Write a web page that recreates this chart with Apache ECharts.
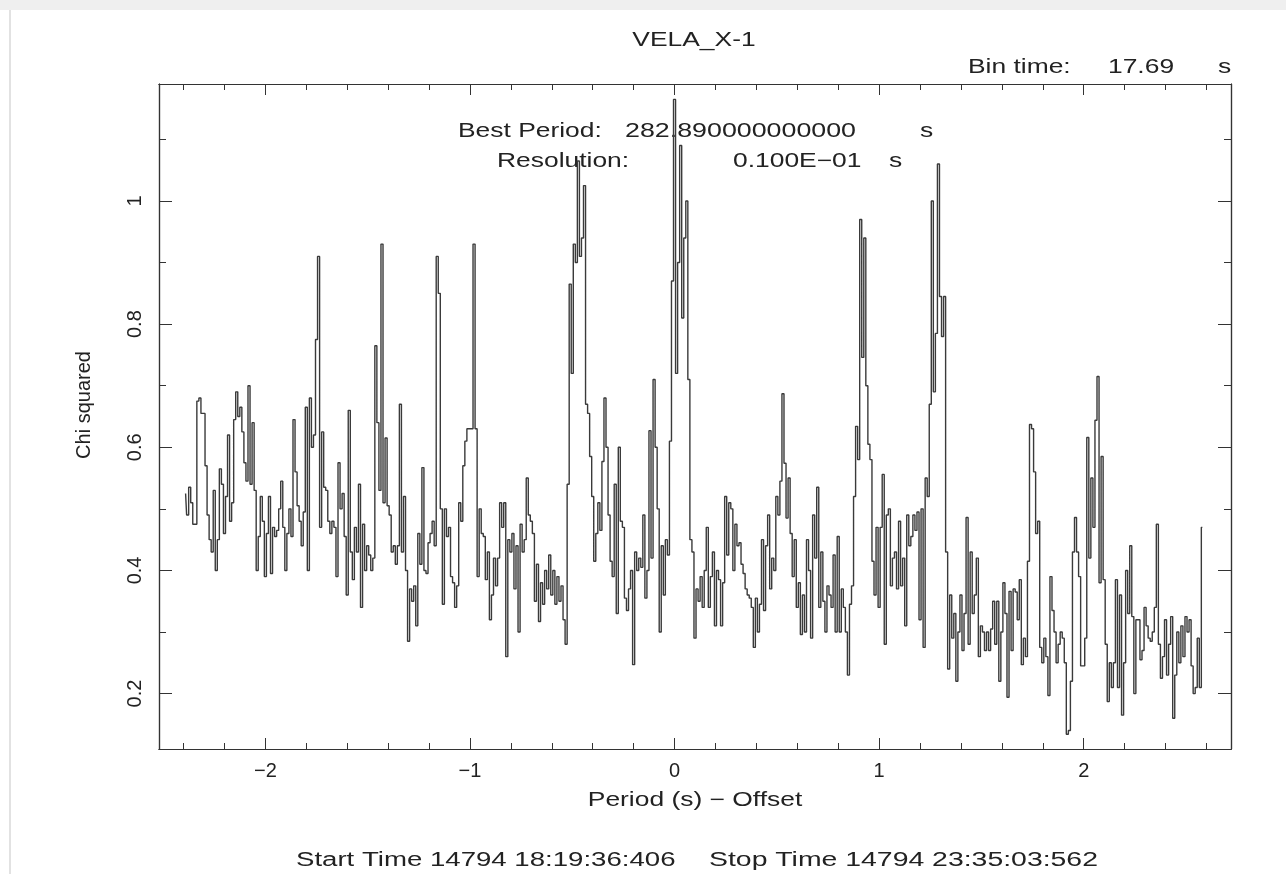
<!DOCTYPE html>
<html>
<head>
<meta charset="utf-8">
<title>VELA_X-1</title>
<script src="https://cdn.jsdelivr.net/npm/echarts@6/dist/echarts.min.js"></script>
<style>
html, body { margin: 0; padding: 0; background: #fff; }
#band { position: absolute; left: 0; top: 0; width: 1286px; height: 10px; background: #efefef; }
#edge { position: absolute; left: 9px; top: 10px; width: 2px; height: 864px; background: #e2e2e2; }
#chart { position: absolute; left: 0; top: 0; width: 1286px; height: 874px; }
</style>
</head>
<body>
<div id="band"></div>
<div id="edge"></div>
<div id="chart"></div>
<script>
var periodStart = -2.39; // first trial period (s) - offset
var resolution = 0.01;   // trial period step (s)

// chi squared for each trial period
var chiSquared = [
	0.525, 0.49, 0.535, 0.51, 0.475, 0.475, 0.675, 0.68, 0.655, 0.655,
	0.57, 0.49, 0.45, 0.43, 0.53, 0.40, 0.45, 0.565, 0.54, 0.46,
	0.52, 0.62, 0.48, 0.51, 0.645, 0.69, 0.65, 0.665, 0.625, 0.575,
	0.545, 0.70, 0.54, 0.64, 0.53, 0.40, 0.455, 0.52, 0.48, 0.39,
	0.46, 0.52, 0.395, 0.47, 0.455, 0.465, 0.50, 0.545, 0.47, 0.40,
	0.46, 0.50, 0.455, 0.645, 0.56, 0.505, 0.48, 0.44, 0.495, 0.665,
	0.40, 0.68, 0.60, 0.62, 0.775, 0.91, 0.47, 0.625, 0.535, 0.53,
	0.48, 0.46, 0.48, 0.47, 0.39, 0.575, 0.50, 0.525, 0.455, 0.36,
	0.66, 0.43, 0.385, 0.47, 0.43, 0.54, 0.34, 0.475, 0.40, 0.44,
	0.425, 0.40, 0.42, 0.765, 0.64, 0.53, 0.93, 0.51, 0.615, 0.505,
	0.49, 0.43, 0.44, 0.41, 0.44, 0.67, 0.43, 0.52, 0.40, 0.285,
	0.37, 0.35, 0.375, 0.31, 0.46, 0.41, 0.567, 0.40, 0.395, 0.445,
	0.46, 0.48, 0.44, 0.91, 0.85, 0.50, 0.345, 0.50, 0.455, 0.47,
	0.39, 0.38, 0.34, 0.375, 0.51, 0.48, 0.57, 0.61, 0.63, 0.63,
	0.63, 0.93, 0.63, 0.39, 0.50, 0.46, 0.455, 0.385, 0.43, 0.32,
	0.36, 0.42, 0.375, 0.42, 0.51, 0.47, 0.51, 0.26, 0.45, 0.43,
	0.46, 0.37, 0.44, 0.30, 0.475, 0.43, 0.45, 0.55, 0.49, 0.48,
	0.46, 0.35, 0.41, 0.317, 0.38, 0.345, 0.40, 0.37, 0.425, 0.36,
	0.40, 0.345, 0.39, 0.35, 0.375, 0.32, 0.28, 0.54, 0.865, 0.72,
	0.93, 0.90, 1.065, 0.91, 0.94, 1.025, 0.67, 0.655, 0.585, 0.52,
	0.415, 0.46, 0.51, 0.465, 0.577, 0.68, 0.60, 0.49, 0.415, 0.39,
	0.54, 0.33, 0.60, 0.48, 0.47, 0.355, 0.335, 0.37, 0.40, 0.247,
	0.43, 0.40, 0.42, 0.405, 0.49, 0.355, 0.40, 0.627, 0.42, 0.71,
	0.60, 0.50, 0.30, 0.44, 0.36, 0.45, 0.425, 0.61, 0.87, 1.165,
	0.72, 0.90, 1.09, 0.81, 0.94, 1.0, 0.71, 0.45, 0.43, 0.29,
	0.37, 0.35, 0.39, 0.34, 0.40, 0.47, 0.34, 0.39, 0.43, 0.31,
	0.40, 0.385, 0.31, 0.38, 0.52, 0.425, 0.51, 0.50, 0.40, 0.475,
	0.44, 0.445, 0.41, 0.395, 0.37, 0.36, 0.355, 0.34, 0.275, 0.355,
	0.30, 0.345, 0.45, 0.335, 0.44, 0.49, 0.37, 0.42, 0.40, 0.52,
	0.49, 0.545, 0.687, 0.574, 0.485, 0.55, 0.46, 0.39, 0.45, 0.34,
	0.38, 0.296, 0.36, 0.30, 0.45, 0.40, 0.29, 0.49, 0.42, 0.535,
	0.34, 0.43, 0.35, 0.30, 0.375, 0.36, 0.34, 0.425, 0.30, 0.455,
	0.30, 0.37, 0.34, 0.30, 0.23, 0.345, 0.375, 0.52, 0.634, 0.58,
	0.97, 0.746, 0.94, 0.70, 0.605, 0.58, 0.415, 0.36, 0.47, 0.34,
	0.47, 0.556, 0.28, 0.49, 0.50, 0.375, 0.42, 0.43, 0.37, 0.48,
	0.375, 0.42, 0.31, 0.49, 0.44, 0.455, 0.49, 0.465, 0.495, 0.32,
	0.50, 0.275, 0.55, 0.52, 0.67, 1.0, 0.69, 0.785, 1.06, 0.845,
	0.78, 0.845, 0.43, 0.24, 0.36, 0.29, 0.33, 0.22, 0.30, 0.36,
	0.27, 0.33, 0.486, 0.28, 0.43, 0.33, 0.36, 0.42, 0.26, 0.31,
	0.30, 0.27, 0.30, 0.27, 0.305, 0.35, 0.28, 0.35, 0.22, 0.30,
	0.38, 0.33, 0.194, 0.366, 0.27, 0.37, 0.365, 0.32, 0.385, 0.247,
	0.29, 0.26, 0.415, 0.637, 0.63, 0.56, 0.46, 0.48, 0.275, 0.25,
	0.29, 0.26, 0.197, 0.39, 0.335, 0.30, 0.25, 0.28, 0.30, 0.29,
	0.25, 0.134, 0.14, 0.22, 0.43, 0.486, 0.43, 0.39, 0.245, 0.245,
	0.29, 0.616, 0.42, 0.55, 0.47, 0.644, 0.715, 0.38, 0.585, 0.385,
	0.28, 0.187, 0.25, 0.21, 0.25, 0.385, 0.21, 0.36, 0.165, 0.25,
	0.40, 0.33, 0.44, 0.325, 0.20, 0.32, 0.32, 0.255, 0.27, 0.34,
	0.31, 0.29, 0.285, 0.30, 0.34, 0.475, 0.28, 0.225, 0.26, 0.32,
	0.23, 0.28, 0.325, 0.16, 0.23, 0.30, 0.25, 0.31, 0.26, 0.325,
	0.30, 0.32, 0.245, 0.20, 0.21, 0.29, 0.21, 0.47
];

var xRange = [-2.52, 2.72];
var yRange = [0.11, 1.19];

var FONT = '"Liberation Sans", Arial, sans-serif';
var INK = '#222';

var points = [];
for(var i = 0; i < chiSquared.length; i++) {
	points.push([+(periodStart + i * resolution).toFixed(2), chiSquared[i]]);
}

function minus(s) {
	return String(s).replace('-', '\u2212');
}

// one axis per tick size: short ticks every 0.2 / 0.1, long ticks at the labelled values
function xAxisOf(pos, split, tickLen, labels) {
	return {
		type: 'value',
		position: pos,
		min: xRange[0],
		max: xRange[1],
		splitNumber: split,
		axisLine: { show: true, onZero: false, lineStyle: { color: '#333', width: 1.2 } },
		axisTick: { show: true, inside: true, length: tickLen, lineStyle: { color: '#333', width: 1 } },
		axisLabel: {
			show: labels,
			margin: 12,
			fontSize: 20,
			fontFamily: FONT,
			color: INK,
			formatter: function(v) {
				return Math.abs(v - Math.round(v)) < 1e-6 ? minus(Math.round(v)) : '';
			}
		},
		splitLine: { show: false }
	};
}

function yAxisOf(pos, split, tickLen, labels) {
	return {
		type: 'value',
		position: pos,
		min: yRange[0],
		max: yRange[1],
		splitNumber: split,
		axisLine: { show: true, onZero: false, lineStyle: { color: '#333', width: 1.2 } },
		axisTick: { show: true, inside: true, length: tickLen, lineStyle: { color: '#333', width: 1 } },
		axisLabel: {
			show: labels,
			rotate: 90,
			margin: 14,
			fontSize: 20,
			fontFamily: FONT,
			color: INK,
			formatter: function(v) {
				var t = v * 5;
				return Math.abs(t - Math.round(t)) < 1e-6 ? String(+v.toFixed(1)) : '';
			}
		},
		splitLine: { show: false }
	};
}

function label(txt, x, y, align, extra) {
	var el = {
		type: 'text',
		x: x,
		y: y,
		scaleX: 1.32,
		z: 1,
		style: {
			text: txt,
			font: '20px ' + FONT,
			fill: INK,
			textAlign: align,
			textVerticalAlign: 'middle',
			align: align,
			verticalAlign: 'middle'
		}
	};
	return $extend(el, extra);
}

function $extend(a, b) {
	if(b) {
		for(var k in b) a[k] = b[k];
	}
	return a;
}

var chart = echarts.init(document.getElementById('chart'), null, { renderer: 'canvas' });
chart.setOption({
	animation: false,
	backgroundColor: 'transparent',
	grid: { left: 159, right: 55, top: 84, bottom: 125, containLabel: false },
	xAxis: [
		xAxisOf('bottom', 26, 6, true),
		xAxisOf('bottom', 5, 11, false),
		xAxisOf('top', 26, 6, false),
		xAxisOf('top', 5, 11, false)
	],
	yAxis: [
		yAxisOf('left', 11, 7, false),
		yAxisOf('left', 5, 13, true),
		yAxisOf('right', 11, 7, false),
		yAxisOf('right', 5, 13, false)
	],
	series: [{
		type: 'line',
		name: 'Chi squared',
		xAxisIndex: 0,
		yAxisIndex: 0,
		step: 'middle',
		showSymbol: false,
		silent: true,
		z: 3,
		lineStyle: { color: '#3a3a3a', width: 1.4 },
		data: points
	}],
	graphic: [
		label('VELA_X-1', 694, 40, 'center'),
		label('Bin time:', 968, 67, 'left'),
		label('17.69', 1108, 67, 'left'),
		label('s', 1218, 67, 'left'),
		label('Best Period:', 458, 131, 'left'),
		label('282.890000000000', 625, 131, 'left', { scaleX: 1.34 }),
		label('s', 920, 131, 'left'),
		label('Resolution:', 497, 161, 'left'),
		label('0.100E\u221201', 733, 161, 'left'),
		label('s', 889, 161, 'left'),
		label('Period (s) \u2212 Offset', 695, 800, 'center'),
		label('Chi squared', 84, 405, 'center', { rotation: Math.PI / 2, scaleX: 1, scaleY: 1 }),
		label('Start Time 14794 18:19:36:406', 296, 860, 'left', { scaleX: 1.38 }),
		label('Stop Time 14794 23:35:03:562', 709, 860, 'left', { scaleX: 1.42 })
	]
});
</script>
</body>
</html>
